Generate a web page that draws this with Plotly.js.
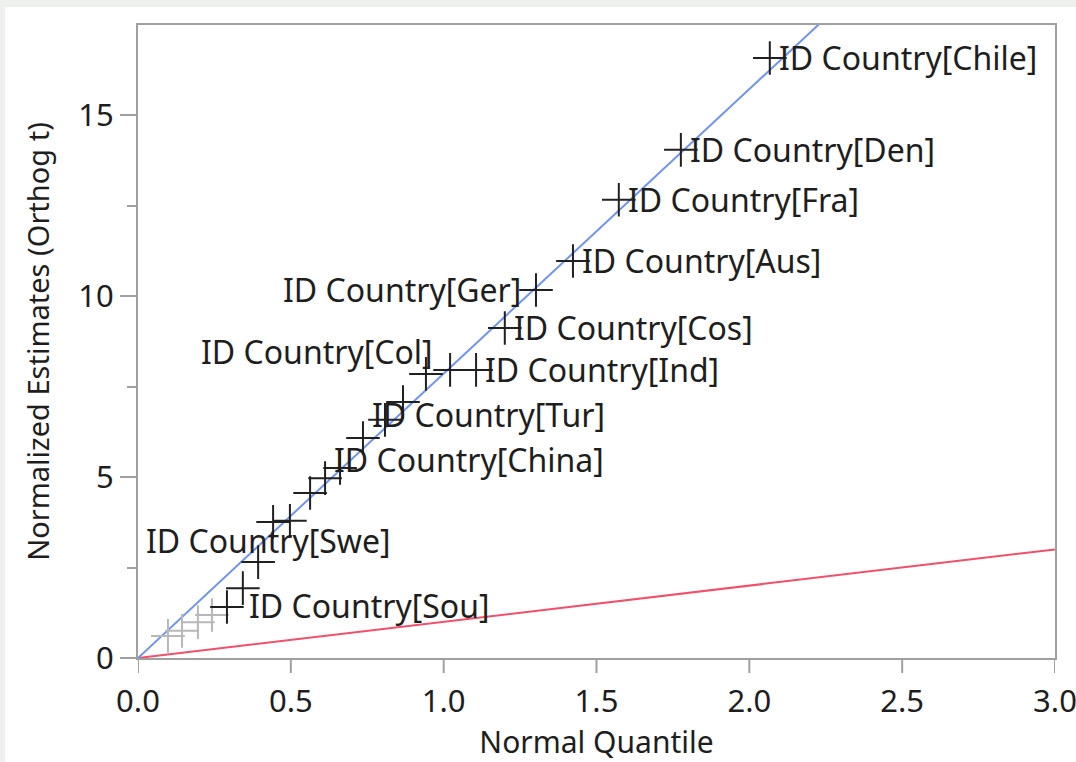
<!DOCTYPE html>
<html>
<head>
<meta charset="utf-8">
<script src="https://cdn.plot.ly/plotly-3.0.1.min.js"></script>
<style>
html,body{margin:0;padding:0;background:#edf0ec;width:1076px;height:762px;overflow:hidden;}
#chart{position:absolute;left:5px;top:7px;width:1071px;height:755px;background:#fff;}
</style>
</head>
<body>
<div id="chart"></div>
<script>
// Half-normal plot data
const quantiles = [0.098, 0.144, 0.196, 0.242, 0.291, 0.343, 0.393, 0.442, 0.497, 0.563, 0.612, 0.661, 0.736, 0.808, 0.867, 0.942, 1.021, 1.106, 1.200, 1.302, 1.423, 1.573, 1.776, 2.067];
const estimates = [0.61, 0.75, 0.99, 1.19, 1.41, 1.93, 2.65, 3.76, 3.79, 4.56, 4.97, 5.25, 6.08, 6.58, 7.07, 7.85, 7.96, 7.96, 9.12, 10.17, 10.97, 12.66, 14.04, 16.58];
const significant = [false, false, false, false, true, true, true, true, true, true, true, true, true, true, true, true, true, true, true, true, true, true, true, true];
const pointLabels = ["", "", "", "", "ID Country[Sou]", "", "", "", "ID Country[Swe]", "", "", "ID Country[China]", "", "ID Country[Tur]", "", "ID Country[Col]", "", "ID Country[Ind]", "ID Country[Cos]", "ID Country[Ger]", "ID Country[Aus]", "ID Country[Fra]", "ID Country[Den]", "ID Country[Chile]"];
const lineX = [0, 3];
const blueSlope = 7.86;   // fitted line through the estimates
const redSlope = 1.0;     // reference line (unit slope)
const xTicks = [0, 0.5, 1.0, 1.5, 2.0, 2.5, 3.0];
const xTickText = ["0.0", "0.5", "1.0", "1.5", "2.0", "2.5", "3.0"];
const yTicks = [0, 5, 10, 15];
const xTitle = "Normal Quantile";
const yTitle = "Normalized Estimates (Orthog t)";

// label placement style: [xanchor, xshift, yshift]
const labelPlacement = {
  "ID Country[Sou]": ["left", 20, 1],
  "ID Country[Swe]": ["right", 103, -20],
  "ID Country[China]": ["left", -8, 8],
  "ID Country[Tur]": ["left", -15, 5],
  "ID Country[Col]": ["right", 9, 22],
  "ID Country[Ind]": ["left", 7, 0],
  "ID Country[Cos]": ["left", 7, 0],
  "ID Country[Ger]": ["right", -13, 0],
  "ID Country[Aus]": ["left", 7, 0],
  "ID Country[Fra]": ["left", 7, 0],
  "ID Country[Den]": ["left", 7, 0],
  "ID Country[Chile]": ["left", 7, 0]
};

const FONT = "'Noto Sans', 'Open Sans', sans-serif";
const TXT = '#1e1e1e';
const AXC = '#a0a0a0';

const grayX = [], grayY = [], blackX = [], blackY = [];
quantiles.forEach((q, i) => {
  if (significant[i]) { blackX.push(q); blackY.push(estimates[i]); }
  else { grayX.push(q); grayY.push(estimates[i]); }
});

const traces = [
  {x: lineX, y: lineX.map(v => v * redSlope), mode: 'lines', line: {color: '#f0506a', width: 2}, hoverinfo: 'skip'},
  {x: lineX, y: lineX.map(v => v * blueSlope), mode: 'lines', line: {color: '#7094f0', width: 2}, hoverinfo: 'skip'},
  {x: grayX, y: grayY, mode: 'markers', marker: {symbol: 'cross-thin-open', size: 24, color: '#b8b8b8', line: {color: '#b8b8b8', width: 2}}, cliponaxis: false},
  {x: blackX, y: blackY, mode: 'markers', marker: {symbol: 'cross-thin-open', size: 24, color: '#202020', line: {color: '#202020', width: 2}}, cliponaxis: false}
];

const annotations = [];
pointLabels.forEach((lab, i) => {
  if (!lab) return;
  const p = labelPlacement[lab];
  annotations.push({
    x: quantiles[i], y: estimates[i], xref: 'x', yref: 'y',
    text: lab, showarrow: false, xanchor: p[0], yanchor: 'middle',
    xshift: p[1], yshift: p[2],
    font: {family: FONT, size: 32, color: TXT}
  });
});

// x-axis tick marks, placed on the x scale at each tick value, 15 px below the axis
const tickShapes = xTicks.map(t => ({
  type: 'line', xref: 'x', yref: 'paper', ysizemode: 'pixel', yanchor: 0,
  x0: t, x1: t, y0: 0, y1: -15,
  line: {color: AXC, width: 2}, layer: 'above'
}));

const layout = {
  width: 1071, height: 755,
  margin: {l: 133, r: 21, t: 18, b: 104},
  paper_bgcolor: '#ffffff', plot_bgcolor: '#ffffff',
  showlegend: false,
  font: {family: FONT, size: 30, color: TXT},
  xaxis: {
    range: [0, 3], tickvals: xTicks, ticktext: xTickText,
    showgrid: false, zeroline: false,
    showline: true, mirror: true, linecolor: AXC, linewidth: 2,
    ticks: '', ticklabeloverflow: 'allow', ticklabelstandoff: 15,
    tickfont: {family: FONT, size: 31, color: TXT},
    title: {text: xTitle, font: {family: FONT, size: 30, color: TXT}, standoff: 16}
  },
  yaxis: {
    range: [0, 17.49], tickvals: yTicks,
    showgrid: false, zeroline: false,
    showline: true, mirror: true, linecolor: AXC, linewidth: 2,
    ticks: 'outside', ticklen: 16, tickwidth: 2, tickcolor: AXC,
    minor: {dtick: 2.5, ticks: 'outside', ticklen: 9, tickwidth: 2, tickcolor: AXC, showgrid: false},
    tickfont: {family: FONT, size: 31, color: TXT},
    title: {text: yTitle, font: {family: FONT, size: 29, color: TXT}, standoff: 20}
  },
  shapes: tickShapes,
  annotations: annotations
};

Plotly.newPlot('chart', traces, layout, {displayModeBar: false, staticPlot: true});
</script>
</body>
</html>
